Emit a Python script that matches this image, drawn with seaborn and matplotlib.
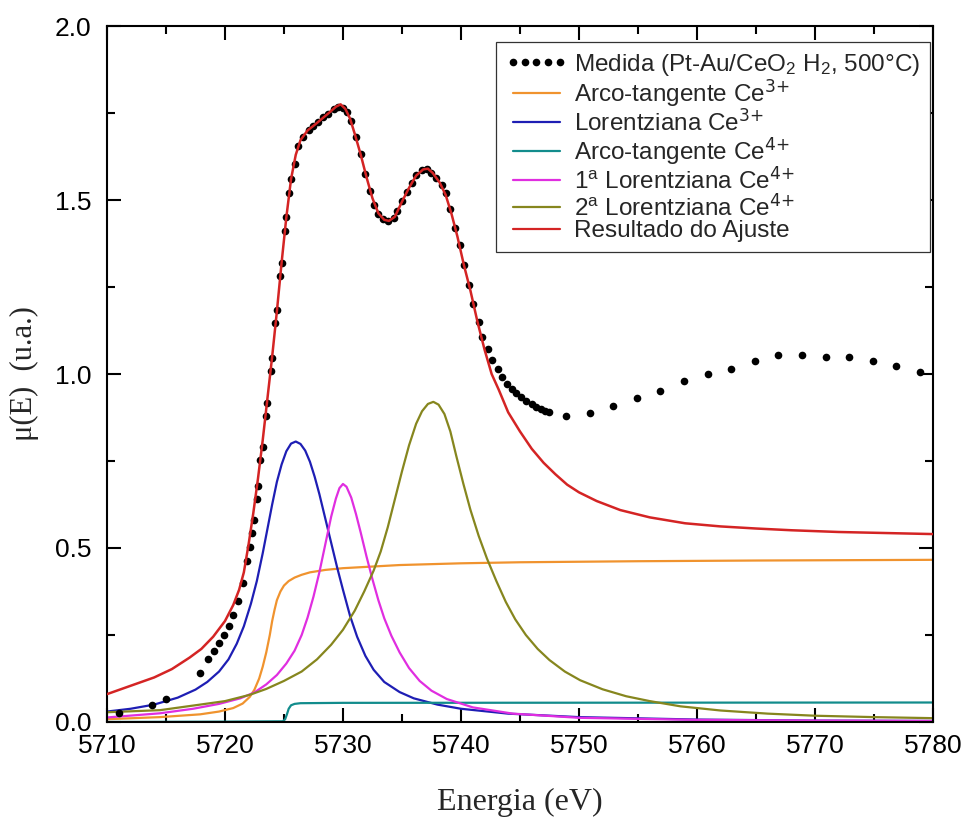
import matplotlib
matplotlib.use("Agg")
import matplotlib.pyplot as plt
import seaborn as sns

# ---- measured spectrum (Pt-Au/CeO2 under H2, 500 °C) ----
med_x = [5711.0, 5713.8, 5715.0, 5717.85, 5718.6, 5719.1, 5719.5, 5719.9, 5720.3, 5720.7,
         5721.1, 5721.5, 5721.9, 5722.1, 5722.3, 5722.46, 5722.7, 5722.8, 5723.0, 5723.2,
         5723.5, 5723.6, 5723.9, 5723.98, 5724.26, 5724.41, 5724.7, 5724.8, 5725.1, 5725.2,
         5725.45, 5725.6, 5725.9, 5726.2, 5726.6, 5727.1, 5727.5, 5727.9, 5728.3, 5728.75,
         5729.2, 5729.6, 5730.0, 5730.3, 5730.7, 5731.1, 5731.5, 5731.9, 5732.3, 5732.65,
         5733.0, 5733.4, 5733.8, 5734.3, 5734.6, 5735.0, 5735.45, 5735.85, 5736.2, 5736.7,
         5737.1, 5737.5, 5737.9, 5738.4, 5738.7, 5739.1, 5739.5, 5739.9, 5740.25, 5740.65,
         5741.0, 5741.5, 5741.8, 5742.3, 5742.65, 5743.1, 5743.5, 5743.9, 5744.35, 5744.7,
         5745.1, 5745.55, 5746.0, 5746.4, 5746.8, 5747.15, 5747.5, 5748.9, 5750.9, 5752.9,
         5754.9, 5756.9, 5758.9, 5760.9, 5762.9, 5764.9, 5766.9, 5768.9, 5770.9, 5772.9,
         5774.9, 5776.9, 5778.9]
med_y = [0.025, 0.050, 0.066, 0.141, 0.180, 0.204, 0.228, 0.251, 0.277, 0.307,
         0.347, 0.399, 0.464, 0.503, 0.544, 0.580, 0.642, 0.679, 0.752, 0.789,
         0.879, 0.916, 1.009, 1.045, 1.147, 1.184, 1.282, 1.320, 1.412, 1.450,
         1.521, 1.560, 1.603, 1.655, 1.682, 1.701, 1.713, 1.725, 1.738, 1.746,
         1.761, 1.768, 1.763, 1.754, 1.727, 1.680, 1.631, 1.575, 1.526, 1.485,
         1.460, 1.445, 1.440, 1.447, 1.469, 1.497, 1.524, 1.550, 1.572, 1.586,
         1.588, 1.578, 1.562, 1.543, 1.519, 1.473, 1.419, 1.371, 1.313, 1.256,
         1.200, 1.149, 1.107, 1.072, 1.040, 1.013, 0.992, 0.971, 0.956, 0.945,
         0.933, 0.923, 0.914, 0.906, 0.899, 0.894, 0.890, 0.880, 0.887, 0.909,
         0.932, 0.952, 0.979, 0.999, 1.015, 1.037, 1.054, 1.054, 1.050, 1.048,
         1.037, 1.023, 1.007]

# ---- arctangent step, Ce3+ ----
atan3_x = [5710, 5714.5, 5717.9, 5719.5, 5720.7, 5721.5, 5722.1, 5722.5, 5722.9, 5723.2,
           5723.5, 5723.8, 5724.0, 5724.2, 5724.4, 5724.7, 5725.0, 5725.4, 5725.9, 5726.5,
           5727.2, 5728.5, 5730, 5734.8, 5740, 5745, 5755, 5765, 5780]
atan3_y = [0.008, 0.014, 0.022, 0.030, 0.040, 0.053, 0.072, 0.093, 0.125, 0.159,
           0.200, 0.250, 0.290, 0.322, 0.350, 0.375, 0.392, 0.405, 0.415, 0.423,
           0.430, 0.437, 0.442, 0.451, 0.456, 0.459, 0.462, 0.464, 0.466]

# ---- Lorentzian, Ce3+ ----
lor3_x = [5710, 5712, 5714, 5716, 5717.5, 5718.5, 5719.5, 5720.3, 5721.0, 5721.6,
          5722.2, 5722.7, 5723.2, 5723.6, 5724.0, 5724.4, 5724.8, 5725.2, 5725.6, 5726.0,
          5726.4, 5726.8, 5727.2, 5727.6, 5728.0, 5728.5, 5729.0, 5729.5, 5730.0, 5730.6,
          5731.2, 5731.9, 5732.6, 5733.5, 5734.8, 5736.0, 5738.0, 5740, 5744, 5750,
          5760, 5770, 5780]
lor3_y = [0.030, 0.038, 0.050, 0.070, 0.093, 0.115, 0.145, 0.180, 0.225, 0.275,
          0.340, 0.405, 0.485, 0.555, 0.625, 0.690, 0.740, 0.778, 0.800, 0.806,
          0.799, 0.780, 0.748, 0.705, 0.655, 0.585, 0.515, 0.445, 0.380, 0.305,
          0.245, 0.190, 0.150, 0.115, 0.086, 0.068, 0.050, 0.038, 0.024, 0.014,
          0.007, 0.004, 0.003]

# ---- arctangent step, Ce4+ ----
atan4_x = [5710, 5720, 5724.9, 5725.1, 5725.25, 5725.4, 5725.6, 5725.9, 5726.4, 5730, 5780]
atan4_y = [0.000, 0.001, 0.002, 0.008, 0.022, 0.038, 0.048, 0.052, 0.054, 0.055, 0.056]

# ---- 1st Lorentzian, Ce4+ ----
lor4a_x = [5710, 5714.5, 5717.3, 5719.5, 5721.3, 5722.5, 5723.5, 5724.4, 5725.2, 5725.9,
           5726.5, 5727.0, 5727.5, 5728.0, 5728.5, 5729.0, 5729.4, 5729.7, 5730.0, 5730.3,
           5730.7, 5731.1, 5731.5, 5732.0, 5732.5, 5733.0, 5733.5, 5734.1, 5734.8, 5735.6,
           5736.5, 5737.5, 5738.8, 5741, 5744.4, 5750, 5760, 5770, 5780]
lor4a_y = [0.013, 0.025, 0.038, 0.052, 0.068, 0.085, 0.108, 0.135, 0.168, 0.205,
           0.250, 0.300, 0.360, 0.430, 0.510, 0.590, 0.642, 0.672, 0.684, 0.676,
           0.645, 0.598, 0.545, 0.475, 0.410, 0.350, 0.298, 0.248, 0.200, 0.155,
           0.118, 0.090, 0.066, 0.042, 0.024, 0.012, 0.006, 0.004, 0.003]

# ---- 2nd Lorentzian, Ce4+ ----
lor4b_x = [5710, 5714.5, 5717.9, 5720, 5722.1, 5723.5, 5725, 5726.5, 5727.8, 5729.0,
           5730.0, 5731.0, 5731.8, 5732.6, 5733.2, 5733.8, 5734.4, 5735.0, 5735.6, 5736.2,
           5736.7, 5737.2, 5737.66, 5738.1, 5738.6, 5739.1, 5739.6, 5740.2, 5740.8, 5741.5,
           5742.2, 5743.0, 5743.8, 5744.6, 5745.5, 5746.5, 5747.5, 5748.8, 5750.1, 5752.0,
           5754.0, 5756.0, 5758.6, 5762, 5766, 5770, 5775, 5780]
lor4b_y = [0.028, 0.034, 0.050, 0.060, 0.078, 0.095, 0.118, 0.145, 0.180, 0.222,
           0.265, 0.320, 0.375, 0.435, 0.490, 0.560, 0.640, 0.720, 0.795, 0.857,
           0.893, 0.914, 0.920, 0.912, 0.885, 0.835, 0.765, 0.685, 0.610, 0.535,
           0.470, 0.405, 0.345, 0.295, 0.250, 0.210, 0.178, 0.145, 0.120, 0.094,
           0.074, 0.060, 0.045, 0.033, 0.024, 0.018, 0.014, 0.011]

# ---- fit result ----
fit_x = [5710, 5712, 5714, 5715.5, 5717, 5718, 5719, 5720, 5720.7, 5721.2,
         5721.6, 5722.0, 5722.4, 5722.8, 5723.2, 5723.6, 5724.0, 5724.4, 5724.8, 5725.2,
         5725.6, 5726.0, 5726.4, 5727.0, 5727.6, 5728.2, 5728.8, 5729.4, 5729.8, 5730.2,
         5730.6, 5731.0, 5731.5, 5732.0, 5732.5, 5733.0, 5733.5, 5733.9, 5734.4, 5735.0,
         5735.6, 5736.2, 5736.8, 5737.2, 5737.6, 5738.2, 5738.7, 5739.2, 5739.7, 5740.25,
         5740.8, 5741.4, 5742.0, 5742.6, 5743.2, 5744.0, 5745.0, 5746.0, 5747.0, 5748.0,
         5749.0, 5750.0, 5751.5, 5753.5, 5756.0, 5759.0, 5762.0, 5765.0, 5768.0, 5772.0,
         5776.0, 5780.0]
fit_y = [0.080, 0.104, 0.128, 0.152, 0.185, 0.210, 0.245, 0.290, 0.336, 0.380,
         0.430, 0.510, 0.600, 0.700, 0.810, 0.930, 1.050, 1.180, 1.320, 1.450,
         1.560, 1.630, 1.672, 1.700, 1.716, 1.733, 1.750, 1.768, 1.775, 1.762,
         1.734, 1.690, 1.631, 1.565, 1.505, 1.462, 1.443, 1.440, 1.452, 1.495,
         1.535, 1.570, 1.588, 1.590, 1.578, 1.550, 1.515, 1.460, 1.395, 1.313,
         1.240, 1.150, 1.070, 1.000, 0.955, 0.890, 0.835, 0.785, 0.745, 0.712,
         0.682, 0.660, 0.635, 0.609, 0.588, 0.571, 0.562, 0.556, 0.551, 0.546,
         0.543, 0.540]

labels = [
    "Medida (Pt-Au/CeO$_2$ H$_2$, 500°C)",
    "Arco-tangente Ce$^{\\text{3+}}$",
    "Lorentziana Ce$^{\\text{3+}}$",
    "Arco-tangente Ce$^{\\text{4+}}$",
    "1$^{a}$ Lorentziana Ce$^{\\text{4+}}$",
    "2$^{a}$ Lorentziana Ce$^{\\text{4+}}$",
    "Resultado do Ajuste",
]
colors = ["black", "#F0932E", "#1E1EB4", "#128C8C", "#E02EE0", "#86861E", "#D42424"]

sns.set_style("ticks")
plt.rcParams["font.family"] = ["Liberation Sans", "DejaVu Sans"]
plt.rcParams["mathtext.default"] = "regular"

fig = plt.figure(figsize=(9.68, 8.21), dpi=100)
ax = fig.add_axes([0.1105, 0.1206, 0.8533, 0.8477])

sns.lineplot(x=med_x, y=med_y, ax=ax, color=colors[0], marker="o", linestyle="",
             markersize=5.5, markeredgewidth=0, sort=False, estimator=None,
             label=labels[0], zorder=3)
curves = [(atan3_x, atan3_y), (lor3_x, lor3_y), (atan4_x, atan4_y),
          (lor4a_x, lor4a_y), (lor4b_x, lor4b_y)]
for (cx, cy), lab, col in zip(curves, labels[1:6], colors[1:6]):
    sns.lineplot(x=cx, y=cy, ax=ax, color=col, linewidth=1.6, sort=False,
                 estimator=None, label=lab, zorder=2)
sns.lineplot(x=fit_x, y=fit_y, ax=ax, color=colors[6], linewidth=1.8, sort=False,
             estimator=None, label=labels[6], zorder=4)

ax.set_xlim(5710, 5780)
ax.set_ylim(0, 2.0)
ax.set_xticks(range(5710, 5781, 10))
ax.set_xticks(range(5715, 5781, 10), minor=True)
ax.set_yticks([0.0, 0.5, 1.0, 1.5, 2.0])
ax.set_yticks([0.25, 0.75, 1.25, 1.75], minor=True)
ax.set_yticklabels(["0.0", "0.5", "1.0", "1.5", "2.0"])

for side in ["left", "right", "top", "bottom"]:
    ax.spines[side].set_visible(True)
    ax.spines[side].set_linewidth(1.5)
    ax.spines[side].set_color("black")

ax.tick_params(which="both", direction="in", top=True, right=True, width=1.5,
               colors="black", labelsize=19)
ax.tick_params(which="major", length=10)
ax.tick_params(which="minor", length=5.5)
ax.tick_params(axis="x", which="major", pad=9)
ax.tick_params(axis="y", which="major", pad=11)

ax.set_xlabel("Energia (eV)", fontsize=23, family=["Liberation Serif", "DejaVu Serif"])
ax.set_ylabel("μ(E)  (u.a.)", fontsize=22, family=["Liberation Serif", "DejaVu Serif"])
ax.xaxis.set_label_coords(0.5, -0.095)
ax.yaxis.set_label_coords(-0.082, 0.5)

leg = ax.legend(loc="upper right", bbox_to_anchor=(0.9964, 0.977), borderaxespad=0,
                frameon=True, fancybox=False, framealpha=1, edgecolor="#333333",
                fontsize=17.5, numpoints=5, handlelength=2.5, handletextpad=0.3,
                labelspacing=0.0, borderpad=0.4)
leg.get_frame().set_linewidth(0.9)
for line in leg.get_lines():
    line.set_linewidth(1.6)

fig.savefig("out.png", dpi=100)
